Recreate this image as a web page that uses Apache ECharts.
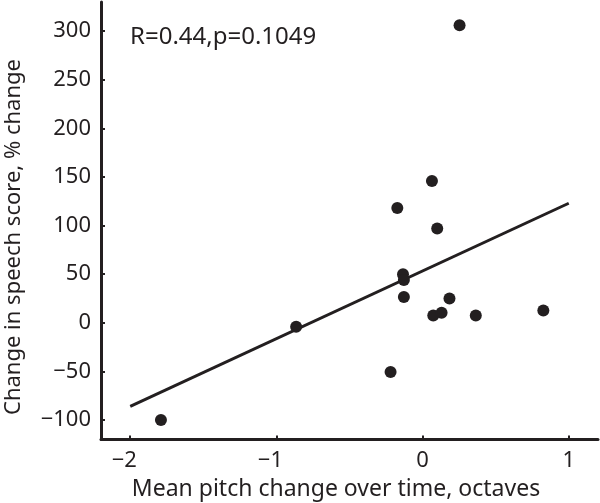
<!DOCTYPE html>
<html><head><meta charset="utf-8">
<script src="https://cdn.jsdelivr.net/npm/echarts@6/dist/echarts.min.js"></script>
<style>html,body{margin:0;padding:0;background:#fff}#c{width:600px;height:503px}</style>
</head><body><div id="c"></div>
<script>
const xValues = [-1.79, -0.865, -0.219, -0.173, -0.134, -0.128, -0.128, 0.064, 0.073, 0.10, 0.130, 0.184, 0.253, 0.364, 0.826];
const yValues = [-100, -4, -50.5, 118, 50, 44, 26.5, 146, 7.6, 97, 10.3, 25, 306, 7.6, 12.8];
const fitX = [-2, 1];
const fitY = [-86, 123];
const xTicks = [-2, -1, 0, 1];
const yTicks = [-100, -50, 0, 50, 100, 150, 200, 250, 300];
const statText = 'R=0.44,p=0.1049';
const xTitle = 'Mean pitch change over time, octaves';
const yTitle = 'Change in speech score, % change';

const INK = '#231f20';
const FONT = '"Noto Sans", sans-serif';
const fmt = v => (v < 0 ? '{m|\u2212}' + Math.abs(v) + '{p|}' : String(v));
const fmtY = v => (v < 0 ? '\u2212' + Math.abs(v) : String(v));

const chart = echarts.init(document.getElementById('c'), null, {renderer: 'canvas'});
chart.setOption({
  animation: false,
  backgroundColor: '#fff',
  grid: {left: 101, right: 2, top: 2, bottom: 63.5, outerBoundsMode: 'none', containLabel: false},
  xAxis: {
    type: 'value', min: -2.2, max: 1.2,
    splitLine: {show: false},
    axisLine: {show: true, onZero: false, lineStyle: {color: INK, width: 3}},
    axisTick: {show: true, inside: true, length: 4, lineStyle: {color: INK, width: 2}, customValues: xTicks},
    axisLabel: {customValues: xTicks, formatter: fmt, color: INK, fontFamily: FONT, fontSize: 22, margin: 10,
      rich: {m: {fontFamily: FONT, fontSize: 22, color: INK}, p: {width: 12}}}
  },
  yAxis: {
    type: 'value', min: -120, max: 330,
    splitLine: {show: false},
    axisLine: {show: true, onZero: false, lineStyle: {color: INK, width: 3}},
    axisTick: {show: true, inside: true, length: 4, lineStyle: {color: INK, width: 2}, customValues: yTicks},
    axisLabel: {customValues: yTicks, formatter: fmtY, color: INK, fontFamily: FONT, fontSize: 22, margin: 10}
  },
  graphic: [
    {type: 'text', left: 130, top: 25, style: {text: statText, font: '24px ' + FONT, fill: INK}},
    {type: 'text', x: 336, y: 489, style: {text: xTitle, font: '23px ' + FONT, fill: INK, textAlign: 'center', textVerticalAlign: 'middle'}},
    {type: 'text', x: 14, y: 237, rotation: Math.PI / 2, style: {text: yTitle, font: '22px ' + FONT, fill: INK, textAlign: 'center', textVerticalAlign: 'middle'}}
  ],
  series: [
    {type: 'line', data: fitX.map((x, i) => [x, fitY[i]]), symbol: 'none', lineStyle: {color: INK, width: 3}, z: 2},
    {type: 'scatter', data: xValues.map((x, i) => [x, yValues[i]]), symbolSize: 12, itemStyle: {color: INK, opacity: 1}, z: 3}
  ]
});
</script></body></html>
